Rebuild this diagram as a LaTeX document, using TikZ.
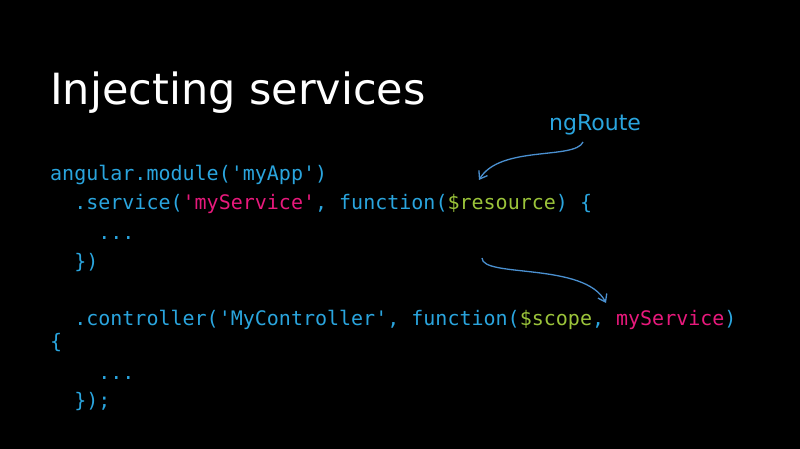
\documentclass[tikz,border=0pt]{standalone}
\usepackage{fontspec}
\setmainfont{DejaVu Sans}
\newfontfamily\codefont{DejaVu Sans Mono}
\usetikzlibrary{arrows.meta}
\definecolor{cblue}{HTML}{2AA5DE}
\definecolor{cgreen}{HTML}{9BC43A}
\definecolor{cpink}{HTML}{E8197C}
\definecolor{arr}{HTML}{4A90D0}
\begin{document}
\begin{tikzpicture}[x=1pt,y=-1pt,
  code/.style={anchor=base west,inner sep=0,text=cblue,font=\codefont\fontsize{20}{20}\selectfont},
  arrowline/.style={draw=arr,line width=1.3pt,-{Straight Barb[length=7pt,width=10pt]}}]
\fill[black] (0,0) rectangle (800,449);
\useasboundingbox (0,0) rectangle (800,449);
\node[anchor=base west,inner sep=0,text=white,font=\fontsize{43}{48}\selectfont] (title) at (50,105) {Injecting services};
\node[anchor=base west,inner sep=0,text=cblue,font=\fontsize{22}{24}\selectfont] (ng) at (549,131) {ngRoute};
\node[code] (l1) at (50,181) {angular.module('myApp')};
\node[code] (l2) at (50,210) {\ \ .service(\textcolor{cpink}{'myService'}, function(\textcolor{cgreen}{\$resource}) \{};
\node[code] (l3) at (50,239) {\ \ \ \ ...};
\node[code] (l4) at (50,268) {\ \ \})};
\node[code] (l6) at (50,325) {\ \ .controller('MyController', function(\textcolor{cgreen}{\$scope}, \textcolor{cpink}{myService})};
\node[code] (l7) at (50,348) {\{};
\node[code] (l8) at (50,379) {\ \ \ \ ...};
\node[code] (l9) at (50,407) {\ \ \});};
\coordinate (a1s) at (583,142);
\coordinate (a1e) at (479,180);
\coordinate (a2s) at (482,258);
\coordinate (a2e) at (606,303);
\draw[arrowline] (a1s) .. controls (575,160) and (500,145) .. (a1e);
\draw[arrowline] (a2s) .. controls (482,278) and (585,262) .. (a2e);
\end{tikzpicture}
\end{document}
